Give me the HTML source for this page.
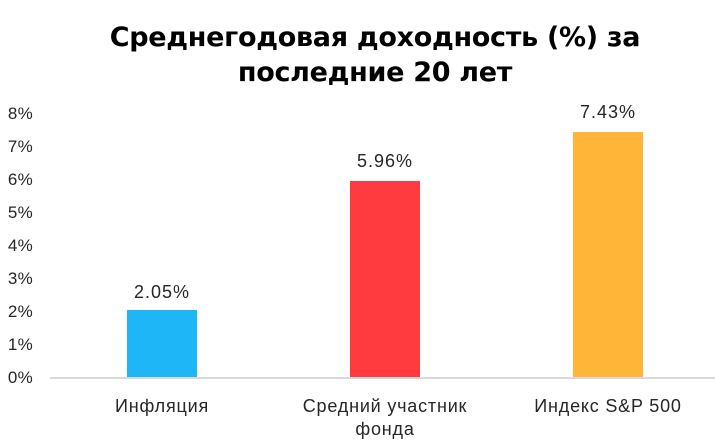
<!DOCTYPE html>
<html><head><meta charset="utf-8"><style>
body{margin:0;background:#fff;width:715px;height:446px;overflow:hidden;position:relative;font-family:"Liberation Sans","DejaVu Sans",sans-serif;color:#262626}
.t{position:absolute;left:0;width:750px;text-align:center;font-weight:bold;font-size:27px;color:#000;font-family:"DejaVu Sans",sans-serif;letter-spacing:-0.3px}
.y{position:absolute;right:682px;font-size:17px;line-height:16px;text-align:right;letter-spacing:0.3px}
.b{position:absolute;width:70px}
.v{position:absolute;width:140px;text-align:center;font-size:18px;letter-spacing:1px}
.c{position:absolute;width:260px;text-align:center;font-size:18px;line-height:23px;letter-spacing:0.8px}
</style></head><body>
<div class="t" style="top:22px">Среднегодовая доходность (%) за</div>
<div class="t" style="top:57px">последние 20 лет</div>
<div class="y" style="top:106px">8%</div>
<div class="y" style="top:139px">7%</div>
<div class="y" style="top:172px">6%</div>
<div class="y" style="top:205px">5%</div>
<div class="y" style="top:238px">4%</div>
<div class="y" style="top:271px">3%</div>
<div class="y" style="top:304px">2%</div>
<div class="y" style="top:337px">1%</div>
<div class="y" style="top:370px">0%</div>
<div style="position:absolute;left:50px;top:377px;width:665px;height:2px;background:#d9d9d9"></div>
<div class="b" style="left:127px;top:310px;height:67px;background:#1FB6F8"></div>
<div class="b" style="left:350px;top:181px;height:196px;background:#FF3B3F"></div>
<div class="b" style="left:573px;top:132px;height:245px;background:#FFB537"></div>
<div class="v" style="left:92px;top:282px">2.05%</div>
<div class="v" style="left:315px;top:151px">5.96%</div>
<div class="v" style="left:538px;top:102px">7.43%</div>
<div class="c" style="left:32px;top:395px">Инфляция</div>
<div class="c" style="left:255px;top:395px">Средний участник<br>фонда</div>
<div class="c" style="left:478px;top:395px">Индекс S&amp;P 500</div>
</body></html>
